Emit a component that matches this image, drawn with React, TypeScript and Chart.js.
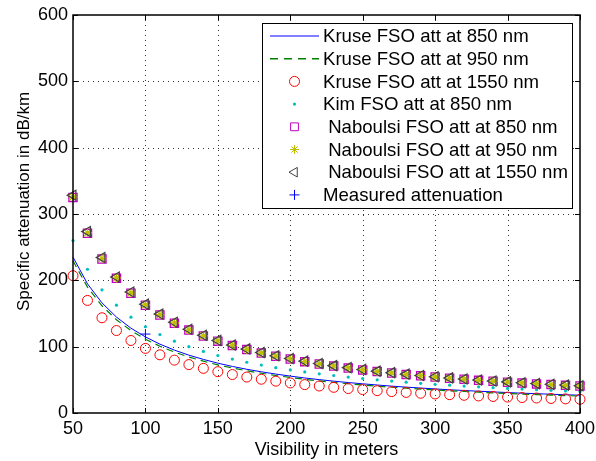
import { useEffect, useRef } from "react";
import { Chart, registerables } from "chart.js";

Chart.register(...registerables);

// Visibility in meters (x) and specific attenuation in dB/km (y)
const visibility = [
  50, 60, 70, 80, 90, 100, 110, 120, 130, 140, 150, 160, 170, 180, 190, 200, 210, 220,
  230, 240, 250, 260, 270, 280, 290, 300, 310, 320, 330, 340, 350, 360, 370, 380, 390, 400,
];
const kruse850 = [
  235, 194.7, 166.0, 144.6, 127.9, 114.7, 103.8, 94.8, 87.2, 80.8, 75.1, 70.2, 65.9, 62.1,
  58.7, 55.6, 52.8, 50.3, 48.0, 45.9, 44.0, 42.2, 40.5, 39.0, 37.6, 36.3, 35.0, 33.9, 32.8,
  31.8, 30.8, 29.9, 29.1, 28.3, 27.5, 26.8,
];
const kruse950 = [
  229.4, 189.8, 161.6, 140.6, 124.2, 111.3, 100.6, 91.8, 84.4, 78.1, 72.5, 67.8, 63.6, 59.9,
  56.5, 53.5, 50.8, 48.4, 46.1, 44.1, 42.2, 40.5, 38.8, 37.4, 36.0, 34.8, 33.5, 32.4, 31.4,
  30.4, 29.4, 28.5, 27.8, 27.0, 26.2, 25.5,
];
const kruse1550 = [
  207, 169.7, 143.6, 124.3, 109.3, 97.4, 87.7, 79.7, 73.0, 67.3, 62.3, 58.0, 54.2, 50.9,
  48.0, 45.3, 42.8, 40.7, 38.7, 36.9, 35.3, 33.7, 32.3, 31.0, 29.8, 28.7, 27.6, 26.7, 25.7,
  24.9, 24.0, 23.3, 22.6, 21.9, 21.3, 20.7,
];
const kim850 = [
  260, 216.7, 185.7, 162.5, 144.4, 130, 118.2, 108.3, 100, 92.9, 86.7, 81.3, 76.5, 72.2,
  68.4, 65, 61.9, 59.1, 56.5, 54.2, 52, 50, 48.1, 46.4, 44.8, 43.3, 41.9, 40.6, 39.4, 38.2,
  37.1, 36.1, 35.1, 34.2, 33.3, 32.5,
];
const naboulsi850 = [
  325, 270.8, 232.1, 203.1, 180.6, 162.5, 147.7, 135.4, 125, 116.1, 108.3, 101.6, 95.6, 90.3,
  85.5, 81.3, 77.4, 73.9, 70.7, 67.7, 65, 62.5, 60.2, 58, 56, 54.2, 52.4, 50.8, 49.2, 47.8,
  46.4, 45.1, 43.9, 42.8, 41.7, 40.6,
];
const naboulsi950 = [
  325.9, 271.6, 232.8, 203.7, 181.1, 163.0, 148.1, 135.8, 125.4, 116.4, 108.6, 101.9, 95.9,
  90.6, 85.8, 81.5, 77.6, 74.1, 70.9, 67.9, 65.2, 62.7, 60.4, 58.2, 56.2, 54.3, 52.6, 50.9,
  49.4, 47.9, 46.6, 45.3, 44.1, 42.9, 41.8, 40.7,
];
const naboulsi1550 = [
  328.3, 273.5, 234.4, 205.1, 182.4, 164.1, 149.2, 136.8, 126.3, 117.3, 109.4, 102.6, 96.6,
  91.2, 86.4, 82.1, 78.2, 74.6, 71.4, 68.4, 65.7, 63.1, 60.8, 58.6, 56.6, 54.7, 52.9, 51.3,
  49.7, 48.3, 46.9, 45.6, 44.3, 43.2, 42.1, 41.0,
];
const measuredVisibility = [100];
const measuredAttenuation = [119];

const xTicks = [50, 100, 150, 200, 250, 300, 350, 400];
const yTicks = [0, 100, 200, 300, 400, 500, 600];

const seriesLabels = [
  "Kruse FSO att at 850 nm",
  "Kruse FSO att at 950 nm",
  "Kruse FSO att at 1550 nm",
  "Kim FSO att at 850 nm",
  " Naboulsi FSO att at 850 nm",
  " Naboulsi FSO att at 950 nm",
  " Naboulsi FSO att at 1550 nm",
  "Measured attenuation",
];
const xTitle = "Visibility in meters";
const yTitle = "Specific attenuation in dB/km";

const FONT = '"Liberation Sans", Arial, Helvetica, sans-serif';
const BLUE = "#0000ff";
const GREEN = "rgb(0,128,0)";
const RED = "#ff0000";
const CYAN = "rgb(0,191,191)";
const MAGENTA = "rgb(191,0,191)";
const OLIVE = "rgb(191,191,0)";
const DARK = "rgb(64,64,64)";

const pts = (xs: number[], ys: number[]) => xs.map((x, i) => ({ x, y: ys[i] }));

type Key = "line" | "dash" | "circle" | "dot" | "square" | "star" | "triangle" | "plus";
const legendKeys: { kind: Key; color: string }[] = [
  { kind: "line", color: BLUE },
  { kind: "dash", color: GREEN },
  { kind: "circle", color: RED },
  { kind: "dot", color: CYAN },
  { kind: "square", color: MAGENTA },
  { kind: "star", color: OLIVE },
  { kind: "triangle", color: DARK },
  { kind: "plus", color: BLUE },
];

function drawKey(ctx: CanvasRenderingContext2D, kind: Key, color: string, x0: number, x1: number, y: number) {
  const cx = (x0 + x1) / 2;
  ctx.save();
  ctx.strokeStyle = color;
  ctx.fillStyle = color;
  ctx.lineWidth = 1;
  ctx.beginPath();
  switch (kind) {
    case "line":
      ctx.moveTo(x0, y);
      ctx.lineTo(x1, y);
      ctx.stroke();
      break;
    case "dash":
      ctx.setLineDash([8, 6]);
      ctx.lineWidth = 1.5;
      ctx.moveTo(x0, y);
      ctx.lineTo(x1, y);
      ctx.stroke();
      break;
    case "circle":
      ctx.arc(cx, y, 5, 0, Math.PI * 2);
      ctx.stroke();
      break;
    case "dot":
      ctx.arc(cx, y, 1.6, 0, Math.PI * 2);
      ctx.fill();
      break;
    case "square":
      ctx.rect(cx - 3.9, y - 3.9, 7.8, 7.8);
      ctx.stroke();
      break;
    case "star": {
      const r = 4.5;
      for (let k = 0; k < 4; k++) {
        const a = (k * Math.PI) / 4;
        ctx.moveTo(cx - Math.cos(a) * r, y - Math.sin(a) * r);
        ctx.lineTo(cx + Math.cos(a) * r, y + Math.sin(a) * r);
      }
      ctx.stroke();
      break;
    }
    case "triangle": {
      const r = 5.5;
      for (let k = 0; k < 3; k++) {
        const a = Math.PI + (k * 2 * Math.PI) / 3;
        const px = cx + Math.cos(a) * r;
        const py = y + Math.sin(a) * r;
        if (k === 0) ctx.moveTo(px, py);
        else ctx.lineTo(px, py);
      }
      ctx.closePath();
      ctx.stroke();
      break;
    }
    case "plus":
      ctx.moveTo(cx - 5, y);
      ctx.lineTo(cx + 5, y);
      ctx.moveTo(cx, y - 5);
      ctx.lineTo(cx, y + 5);
      ctx.stroke();
      break;
  }
  ctx.restore();
}

const axesPlugin = {
  id: "matlabAxes",
  beforeDatasetsDraw(chart: any) {
    const { ctx, chartArea: a, scales } = chart;
    const x = scales.x;
    const y = scales.y;
    ctx.save();
    ctx.strokeStyle = "rgba(0,0,0,0.8)";
    ctx.lineWidth = 1;
    ctx.setLineDash([1, 4]);
    ctx.beginPath();
    for (const v of xTicks.slice(1, -1)) {
      const px = Math.round(x.getPixelForValue(v)) + 0.5;
      ctx.moveTo(px, a.top);
      ctx.lineTo(px, a.bottom);
    }
    for (const v of yTicks.slice(1, -1)) {
      const py = Math.round(y.getPixelForValue(v)) + 0.5;
      ctx.moveTo(a.left, py);
      ctx.lineTo(a.right, py);
    }
    ctx.stroke();
    ctx.restore();
  },
  afterDatasetsDraw(chart: any) {
    const { ctx, chartArea: a, scales } = chart;
    const x = scales.x;
    const y = scales.y;
    ctx.save();
    // box and inward ticks
    ctx.strokeStyle = "#000";
    ctx.lineWidth = 1.5;
    ctx.strokeRect(a.left, a.top, a.right - a.left, a.bottom - a.top);
    ctx.lineWidth = 1;
    ctx.beginPath();
    const tl = 5;
    for (const v of xTicks) {
      const px = Math.round(x.getPixelForValue(v)) + 0.5;
      ctx.moveTo(px, a.bottom);
      ctx.lineTo(px, a.bottom - tl);
      ctx.moveTo(px, a.top);
      ctx.lineTo(px, a.top + tl);
    }
    for (const v of yTicks) {
      const py = Math.round(y.getPixelForValue(v)) + 0.5;
      ctx.moveTo(a.left, py);
      ctx.lineTo(a.left + tl, py);
      ctx.moveTo(a.right, py);
      ctx.lineTo(a.right - tl, py);
    }
    ctx.stroke();

    // legend
    const lx = 262.5;
    const ly = 23.5;
    const lw = 310;
    const lh = 185;
    ctx.fillStyle = "#fff";
    ctx.fillRect(lx, ly, lw, lh);
    ctx.strokeStyle = "#000";
    ctx.lineWidth = 1;
    ctx.strokeRect(lx, ly, lw, lh);
    ctx.font = `18.6px ${FONT}`;
    ctx.textBaseline = "middle";
    ctx.textAlign = "left";
    seriesLabels.forEach((label, i) => {
      const ry = 36 + i * 22.7;
      drawKey(ctx, legendKeys[i].kind, legendKeys[i].color, 270, 319, ry);
      ctx.fillStyle = "#000";
      ctx.fillText(label, 323, ry + 1);
    });

    // axis titles
    ctx.fillStyle = "#000";
    ctx.font = `18px ${FONT}`;
    ctx.textAlign = "center";
    ctx.textBaseline = "alphabetic";
    ctx.fillText(xTitle, (a.left + a.right) / 2, 455);
    ctx.translate(29, 201.5);
    ctx.rotate(-Math.PI / 2);
    ctx.font = `17px ${FONT}`;
    ctx.fillText(yTitle, 0, 0);
    ctx.restore();
  },
};

export default function App() {
  const canvasRef = useRef<HTMLCanvasElement | null>(null);

  useEffect(() => {
    document.body.style.margin = "0";
    const canvas = canvasRef.current;
    if (!canvas) return;

    const n = 8;
    const scatter = (label: string, data: number[], idx: number, extra: any) => ({
      label,
      data: pts(visibility, data),
      showLine: false,
      clip: false,
      order: n - idx,
      borderWidth: 1,
      backgroundColor: "rgba(0,0,0,0)",
      ...extra,
    });

    const chart = new Chart(canvas, {
      type: "line",
      data: {
        datasets: [
          {
            label: seriesLabels[0],
            data: pts(visibility, kruse850),
            borderColor: BLUE,
            borderWidth: 1,
            pointRadius: 0,
            fill: false,
            tension: 0,
            clip: false,
            order: n,
          },
          {
            label: seriesLabels[1],
            data: pts(visibility, kruse950),
            borderColor: GREEN,
            borderWidth: 1.2,
            borderDash: [7, 5],
            pointRadius: 0,
            fill: false,
            tension: 0,
            clip: false,
            order: n - 1,
          },
          scatter(seriesLabels[2], kruse1550, 2, {
            pointStyle: "circle",
            pointRadius: 5,
            borderColor: RED,
          }),
          scatter(seriesLabels[3], kim850, 3, {
            pointStyle: "circle",
            pointRadius: 1.6,
            borderWidth: 0,
            backgroundColor: CYAN,
            borderColor: CYAN,
          }),
          scatter(seriesLabels[4], naboulsi850, 4, {
            pointStyle: "rect",
            pointRadius: 5.8,
            borderWidth: 1.3,
            borderColor: MAGENTA,
          }),
          scatter(seriesLabels[5], naboulsi950, 5, {
            pointStyle: "star",
            pointRadius: 4.5,
            borderWidth: 1.3,
            borderColor: OLIVE,
          }),
          scatter(seriesLabels[6], naboulsi1550, 6, {
            pointStyle: "triangle",
            pointRotation: -90,
            pointRadius: 5.8,
            borderWidth: 1.2,
            borderColor: DARK,
          }),
          {
            label: seriesLabels[7],
            data: pts(measuredVisibility, measuredAttenuation),
            showLine: false,
            clip: false,
            order: 1,
            pointStyle: "cross",
            pointRadius: 5,
            borderWidth: 1,
            borderColor: BLUE,
          },
        ],
      },
      options: {
        responsive: false,
        animation: false,
        events: [],
        layout: { padding: { top: 15, right: 16, left: 0, bottom: 0 } },
        plugins: {
          legend: { display: false },
          tooltip: { enabled: false },
        },
        scales: {
          x: {
            type: "linear",
            min: 50,
            max: 400,
            afterBuildTicks: (s: any) => {
              s.ticks = xTicks.map((v) => ({ value: v }));
            },
            afterFit: (s: any) => {
              s.height = 48;
              s.paddingLeft = 0;
              s.paddingRight = 0;
            },
            grid: { display: false, drawTicks: false },
            border: { display: false },
            ticks: {
              color: "#000",
              font: { family: FONT, size: 18 },
              padding: 5,
              maxRotation: 0,
              autoSkip: false,
            },
          },
          y: {
            type: "linear",
            min: 0,
            max: 600,
            afterBuildTicks: (s: any) => {
              s.ticks = yTicks.map((v) => ({ value: v }));
            },
            afterFit: (s: any) => {
              s.width = 73;
              s.paddingTop = 0;
              s.paddingBottom = 0;
            },
            grid: { display: false, drawTicks: false },
            border: { display: false },
            ticks: {
              color: "#000",
              font: { family: FONT, size: 18 },
              padding: 5,
              autoSkip: false,
            },
          },
        },
      },
      plugins: [axesPlugin],
    } as any);

    return () => chart.destroy();
  }, []);

  return (
    <div style={{ width: 596, height: 461, background: "#fff" }}>
      <canvas ref={canvasRef} width={596} height={461} style={{ display: "block" }} />
    </div>
  );
}
